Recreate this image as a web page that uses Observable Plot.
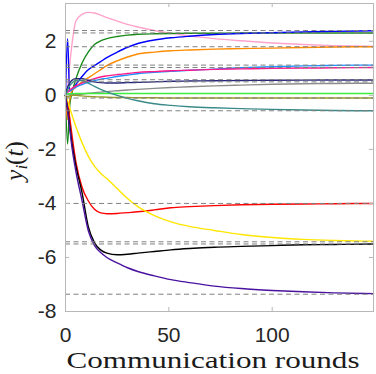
<!DOCTYPE html>
<html><head><meta charset="utf-8">
<script src="https://cdn.jsdelivr.net/npm/d3@7"></script>
<script src="https://cdn.jsdelivr.net/npm/@observablehq/plot@0.6"></script>
<style>body{margin:0;background:#fff}</style>
</head><body><div id="chart"></div>
<script>
// communication rounds sampled (shared grid)
const rounds = [0, 1, 2, 3, 5, 8, 11, 14, 17, 20, 25, 30, 35, 43, 51, 60, 72, 85, 100, 115, 130, 149];

const seriesNames  = ["pink","green","blue","orange","dodger","deeppink","navy","gray","lime","olive","teal","red","yellow","black","purple"];
const seriesColors = ["#ffa3cc","#198a19","#0000ff","#ff8c00","#1e90ff","#ff1a8c","#24247a","#8c8c8c","#3cef3c","#9a9a2a","#3a8a8a","#ff0000","#ffe600","#000000","#4b12a0"];

const yPink     = [0, 0.3, 1.1, 1.8, 2.75, 3.0, 3.07, 3.05, 2.97, 2.88, 2.75, 2.63, 2.53, 2.4, 2.3, 2.2, 2.1, 2.02, 1.94, 1.88, 1.84, 1.81];
const yGreen    = [0, -1.8, -0.4, 0.05, 0.6, 1.2, 1.6, 1.88, 2.02, 2.1, 2.18, 2.23, 2.26, 2.28, 2.29, 2.3, 2.3, 2.31, 2.31, 2.31, 2.31, 2.31];
const yBlue     = [0, 2.1, 0.2, 0.2, 0.4, 0.7, 0.95, 1.1, 1.25, 1.4, 1.6, 1.78, 1.92, 2.05, 2.13, 2.19, 2.25, 2.29, 2.32, 2.35, 2.37, 2.39];
const yOrange   = [0, -0.9, -0.2, 0.15, 0.3, 0.5, 0.65, 0.8, 0.95, 1.1, 1.28, 1.42, 1.53, 1.6, 1.65, 1.68, 1.71, 1.73, 1.75, 1.77, 1.79, 1.8];
const yDodger   = [0, 0.2, 0.15, 0.2, 0.3, 0.4, 0.48, 0.54, 0.6, 0.63, 0.7, 0.75, 0.8, 0.85, 0.89, 0.93, 0.97, 1.02, 1.06, 1.09, 1.11, 1.12];
const yDeepPink = [0, 0.1, 0.2, 0.25, 0.35, 0.45, 0.54, 0.62, 0.68, 0.72, 0.77, 0.81, 0.85, 0.88, 0.91, 0.93, 0.96, 0.98, 1.0, 1.01, 1.02, 1.03];
const yNavy     = [0, 0.3, 0.45, 0.55, 0.62, 0.62, 0.56, 0.5, 0.47, 0.46, 0.46, 0.47, 0.48, 0.5, 0.52, 0.53, 0.54, 0.55, 0.56, 0.565, 0.57, 0.57];
const yGray     = [0, 0.05, 0.03, 0.02, 0.02, 0.05, 0.08, 0.1, 0.12, 0.14, 0.17, 0.2, 0.22, 0.26, 0.29, 0.32, 0.35, 0.38, 0.41, 0.43, 0.44, 0.45];
const yLime     = [0, 0.05, 0.06, 0.06, 0.07, 0.07, 0.07, 0.07, 0.07, 0.07, 0.07, 0.07, 0.07, 0.07, 0.07, 0.07, 0.07, 0.07, 0.07, 0.07, 0.07, 0.07];
const yOlive    = [0, -0.05, -0.02, 0, 0, -0.02, -0.04, -0.05, -0.06, -0.07, -0.08, -0.08, -0.09, -0.09, -0.1, -0.1, -0.1, -0.1, -0.1, -0.1, -0.1, -0.1];
const yTeal     = [0, 0.2, 0.35, 0.45, 0.55, 0.55, 0.45, 0.33, 0.22, 0.13, 0.0, -0.11, -0.2, -0.31, -0.37, -0.42, -0.46, -0.49, -0.52, -0.54, -0.56, -0.57];
const yRed      = [0, -0.3, -0.8, -1.4, -2.45, -3.4, -3.9, -4.22, -4.35, -4.38, -4.37, -4.34, -4.31, -4.24, -4.16, -4.12, -4.08, -4.05, -4.03, -4.02, -4.01, -4.0];
const yYellow   = [0, -0.2, -0.45, -0.7, -1.15, -1.75, -2.25, -2.62, -2.88, -3.08, -3.45, -3.82, -4.12, -4.45, -4.68, -4.85, -5.0, -5.15, -5.26, -5.33, -5.37, -5.4];
const yBlack    = [0, -0.5, -1.1, -1.7, -2.6, -3.6, -4.85, -5.45, -5.72, -5.84, -5.9, -5.88, -5.84, -5.78, -5.72, -5.67, -5.62, -5.59, -5.56, -5.53, -5.52, -5.5];
const yPurple   = [0, -0.55, -1.2, -1.85, -2.8, -3.9, -5.0, -5.55, -5.82, -6.0, -6.2, -6.38, -6.52, -6.68, -6.82, -6.93, -7.06, -7.15, -7.22, -7.27, -7.31, -7.34];

// dashed reference (limit) values
const limits = [2.40, 2.31, 1.80, 1.12, 1.03, 0.58, 0.50, -0.10, -0.57, -4.0, -5.42, -5.50, -7.36];

const xTicks = [0, 50, 100];
const yTicks = [-8, -6, -4, -2, 0, 2];

const seriesValues = [yPink, yGreen, yBlue, yOrange, yDodger, yDeepPink, yNavy, yGray, yLime, yOlive, yTeal, yRed, yYellow, yBlack, yPurple];
const data = seriesNames.flatMap((name, k) => rounds.map((t, i) => ({t, y: seriesValues[k][i], name})));

const xMax = 149, yMin = -8, yMax = 3.4;
const frameColor = "#b8b8b8";

const svg = Plot.plot({
  width: 376, height: 374,
  marginLeft: 65, marginRight: 3, marginTop: 3, marginBottom: 63,
  x: {domain: [0, xMax]},
  y: {domain: [yMin, yMax]},
  color: {domain: seriesNames, range: seriesColors},
  style: {fontFamily: "'Liberation Sans', Arial, sans-serif", background: "#fff"},
  marks: [
    Plot.line(data, {x: "t", y: "y", z: "name", stroke: "name", strokeWidth: 1.4, curve: "monotone-x"}),
    Plot.ruleY(limits, {stroke: "#808080", strokeDasharray: "5,3.5", strokeWidth: 1}),
    Plot.frame({stroke: frameColor}),
    Plot.ruleX(xTicks, {y1: yMin, y2: yMin + 0.15, stroke: frameColor}),
    Plot.ruleX(xTicks, {y1: yMax, y2: yMax - 0.15, stroke: frameColor}),
    Plot.ruleY(yTicks, {x1: 0, x2: 2, stroke: frameColor}),
    Plot.ruleY(yTicks, {x1: xMax, x2: xMax - 2, stroke: frameColor}),
    Plot.axisX({ticks: xTicks, tickSize: 0, tickPadding: 16, fontSize: 21, fill: "#262626", tickFormat: d => String(d), label: null}),
    Plot.axisY({ticks: yTicks, tickSize: 0, tickPadding: 9, fontSize: 21, fill: "#262626", tickFormat: d => String(d), label: null})
  ]
});
document.getElementById("chart").appendChild(svg);

const s = d3.select(svg);
s.append("text")
  .attr("x", 213).attr("y", 368)
  .attr("text-anchor", "middle")
  .attr("font-family", "'Liberation Serif', serif")
  .attr("font-size", 23)
  .attr("fill", "#1a1a1a")
  .attr("textLength", 293)
  .attr("lengthAdjust", "spacingAndGlyphs")
  .text("Communication rounds");

const yl = s.append("text")
  .attr("transform", "translate(23,161) rotate(-90)")
  .attr("text-anchor", "middle")
  .attr("font-family", "'Liberation Serif', serif")
  .attr("font-size", 25)
  .attr("fill", "#1a1a1a");
yl.append("tspan").attr("font-style", "italic").text("y");
yl.append("tspan").attr("font-style", "italic").attr("font-size", 17).attr("dy", 4).text("i");
yl.append("tspan").attr("dy", -4).text("(");
yl.append("tspan").attr("font-style", "italic").text("t");
yl.append("tspan").text(")");
</script>
</body></html>
